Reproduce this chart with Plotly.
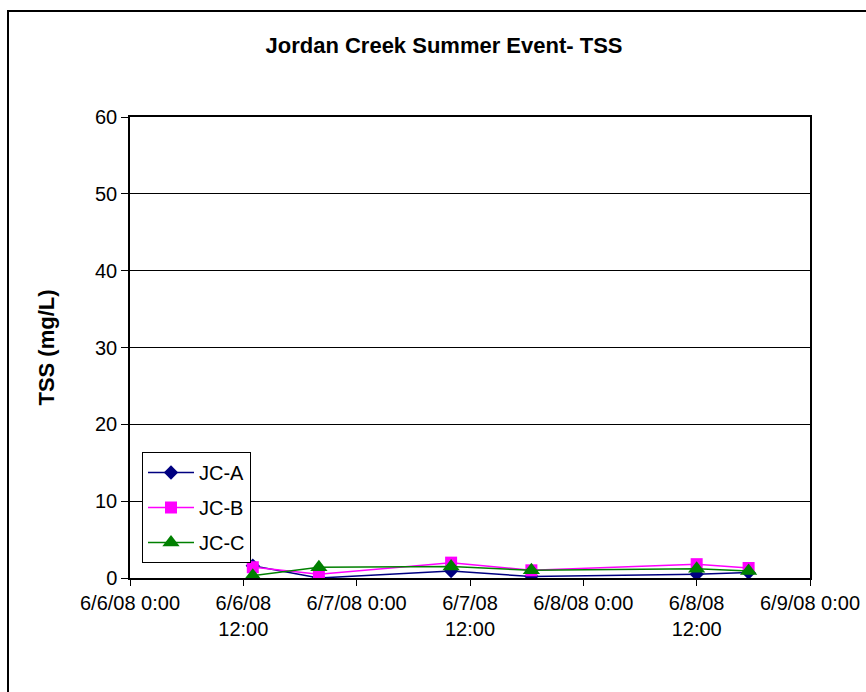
import plotly.graph_objects as go

times = ["2008-06-06 13:00", "2008-06-06 20:00", "2008-06-07 10:00",
         "2008-06-07 18:30", "2008-06-08 12:00", "2008-06-08 17:30"]
jc_a = [1.6, 0.0, 0.9, 0.2, 0.5, 0.7]
jc_b = [1.4, 0.5, 2.0, 1.0, 1.8, 1.3]
jc_c = [0.3, 1.4, 1.5, 1.0, 1.2, 0.9]

tick_vals = ["2008-06-06 00:00", "2008-06-06 12:00", "2008-06-07 00:00",
             "2008-06-07 12:00", "2008-06-08 00:00", "2008-06-08 12:00",
             "2008-06-09 00:00"]
tick_text = ["6/6/08 0:00", "6/6/08<br>12:00", "6/7/08 0:00", "6/7/08<br>12:00",
             "6/8/08 0:00", "6/8/08<br>12:00", "6/9/08 0:00"]

series = [
    ("JC-A", jc_a, "#000080", "diamond", 11),
    ("JC-B", jc_b, "#FF00FF", "square", 12),
    ("JC-C", jc_c, "#008000", "triangle-up", 15),
]

fig = go.Figure()
for name, vals, col, sym, sz in series:
    fig.add_trace(go.Scatter(
        x=times, y=vals, name=name, mode="lines+markers",
        line=dict(color=col, width=1.5),
        marker=dict(symbol=sym, size=sz, color=col),
        legendgroup=name,
    ))

font = "Liberation Sans, Arial, sans-serif"
fig.update_layout(
    width=866, height=692,
    margin=dict(l=130, r=56, t=117, b=114),
    paper_bgcolor="white", plot_bgcolor="white",
    font=dict(family=font, size=20, color="black"),
    title=dict(text="<b>Jordan Creek Summer Event- TSS</b>",
               x=444 / 866, xanchor="center", y=1 - 45 / 692, yanchor="middle",
               font=dict(size=22), automargin=False),
    xaxis=dict(
        type="date", automargin=False,
        range=["2008-06-06 00:00", "2008-06-09 00:00"],
        tickmode="array", tickvals=tick_vals, ticktext=tick_text,
        showgrid=False, showline=True, linecolor="black", linewidth=1.5,
        mirror=True, ticks="outside", ticklen=6, tickcolor="black",
        tickfont=dict(size=20),
    ),
    yaxis=dict(
        range=[0, 60], tickvals=[0, 10, 20, 30, 40, 50, 60], automargin=False,
        showgrid=True, gridcolor="black", gridwidth=1,
        showline=True, linecolor="black", linewidth=1.5, mirror=True,
        ticks="outside", ticklen=7, tickcolor="black",
        title=dict(text="<b>TSS (mg/L)</b>", font=dict(size=22), standoff=34),
        tickfont=dict(size=20), zeroline=False,
    ),
    legend=dict(
        x=(142 - 130) / 680, y=(578 - 452) / 461, xanchor="left", yanchor="top",
        bordercolor="black", borderwidth=1, bgcolor="white",
        font=dict(size=20), traceorder="grouped", tracegroupgap=6,
        itemwidth=46,
    ),
    shapes=[dict(type="rect", xref="paper", yref="paper",
                 x0=(8 - 130) / 680, x1=1.2, y0=-0.5, y1=(578 - 11) / 461,
                 line=dict(color="black", width=2), layer="below")],
)

fig.write_html("out.html")
